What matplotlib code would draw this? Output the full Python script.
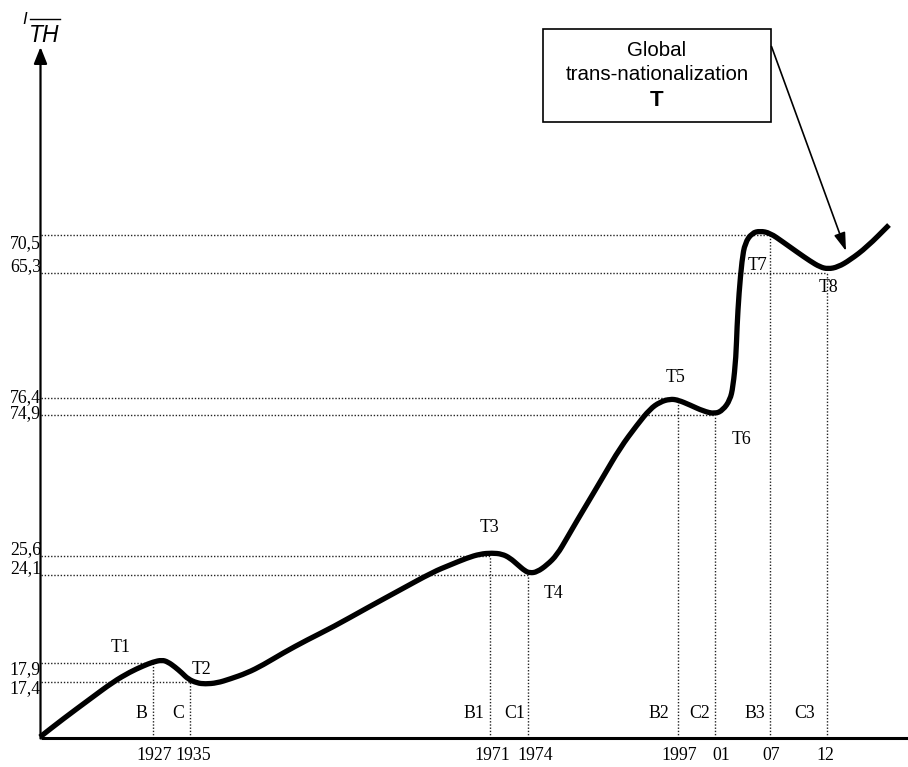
import matplotlib
matplotlib.use("Agg")
import matplotlib.pyplot as plt
from matplotlib.patches import Rectangle, PathPatch
from matplotlib.path import Path

# ---- data (schematic diagram, coordinates in drawing units) ----
curve_x = [40, 63, 90, 113, 130, 143, 153, 162, 168, 175, 182, 188, 197, 205, 217, 230,
           247, 263, 283, 307, 333, 367, 400, 433, 450, 467, 480, 492, 502, 510, 518,
           525, 530, 537, 547, 557, 567, 578, 587, 603, 620, 637, 650, 660, 670, 678,
           690, 703, 715, 723, 730, 733, 736, 737, 739, 742, 745, 752, 760, 770, 783,
           797, 810, 820, 828, 838, 850, 867, 889]
curve_y = [737, 719, 699, 682, 672, 666, 662, 660, 662, 667, 673, 679, 683, 684, 683, 679,
           673, 665, 653, 640, 627, 608, 590, 572, 565, 558, 554, 553, 554, 558, 565,
           571, 573, 572, 565, 555, 538, 519, 504, 477, 448, 425, 409, 402, 399, 400,
           405, 411, 414, 410, 400, 387, 357, 327, 293, 260, 243, 233, 231, 233, 242,
           252, 261, 267, 269, 267, 260, 247, 225]

level_labels = ["70,5", "65,3", "76,4", "74,9", "25,6", "24,1", "17,9", "17,4"]
level_y      = [235, 272.5, 397.5, 415, 556, 574.5, 663, 682]
level_label_y = [244, 267, 398, 414, 550, 569, 670, 689]
level_end_x  = [770, 827, 678, 715, 490, 527.5, 153, 190]

year_labels = ["1927", "1935", "1971", "1974", "1997", "01", "07", "12"]
year_x      = [153, 190, 490, 527.5, 678, 715, 770, 827]
year_top_y  = [663, 682, 556, 574.5, 397.5, 415, 235, 272.5]
year_label_x = [154, 193, 492, 535, 679, 721, 771, 825]

phase_labels = ["B", "C", "B1", "C1", "B2", "C2", "B3", "C3"]
phase_x      = [141, 178, 474, 515, 659, 700, 755, 805]

turn_labels = ["T1", "T2", "T3", "T4", "T5", "T6", "T7", "T8"]
turn_x      = [121, 201, 489, 554, 676, 742, 758, 828]
turn_y      = [648, 670, 528, 593, 377, 440, 265, 288]

box_lines = ["Global", "trans-nationalization", "T"]

# ---- drawing ----
W, H = 908, 767
fig = plt.figure(figsize=(W / 100, H / 100), dpi=100)
ax = fig.add_axes([0, 0, 1, 1])
ax.set_xlim(0, W)
ax.set_ylim(H, 0)
ax.axis("off")

serif = "Liberation Serif"
sans = "Liberation Sans"
dot = dict(color="#222222", lw=1.0, linestyle=(0, (1, 1.3)))
fs = 12.8

ox, oy = 40.5, 737.5

# dotted guide lines
for yv, xe in zip(level_y, level_end_x):
    ax.plot([ox, xe], [yv, yv], **dot, zorder=1)
for xv, yt in zip(year_x, year_top_y):
    ax.plot([xv, xv], [oy, yt], **dot, zorder=1)

# axes
ax.plot([ox, W], [oy, oy], color="black", lw=2.2, solid_capstyle="butt", zorder=3)
ax.annotate("", xy=(ox, 47), xytext=(ox, oy + 1),
            arrowprops=dict(arrowstyle="-|>,head_length=1.0,head_width=0.4",
                            color="black", lw=1.6, shrinkA=0, shrinkB=0), zorder=3)

# smooth curve: quadratic B-spline path through the read points as control points
pts = list(zip(curve_x, curve_y))
verts = [pts[0]]
codes = [Path.MOVETO]
verts.append(((pts[0][0] + pts[1][0]) / 2, (pts[0][1] + pts[1][1]) / 2))
codes.append(Path.LINETO)
for i in range(1, len(pts) - 1):
    mid = ((pts[i][0] + pts[i + 1][0]) / 2, (pts[i][1] + pts[i + 1][1]) / 2)
    verts += [pts[i], mid]
    codes += [Path.CURVE3, Path.CURVE3]
verts.append(pts[-1])
codes.append(Path.LINETO)
ax.add_patch(PathPatch(Path(verts, codes), facecolor="none", edgecolor="black",
                       lw=3.8, capstyle="butt", joinstyle="round", zorder=4))

# level labels
for lab, yv in zip(level_labels, level_label_y):
    ax.text(41, yv, lab, ha="right", va="center", fontsize=fs, family=serif)

# year labels
for lab, xv in zip(year_labels, year_label_x):
    ax.text(xv, 756, lab, ha="center", va="center", fontsize=fs, family=serif)

# phase labels
for lab, xv in zip(phase_labels, phase_x):
    ax.text(xv, 713, lab, ha="center", va="center", fontsize=fs, family=serif)

# turning point labels
for lab, xv, yv in zip(turn_labels, turn_x, turn_y):
    ax.text(xv, yv, lab, ha="center", va="center", fontsize=fs, family=serif)

# y-axis title
ax.text(25, 19, "I", ha="center", va="center", fontsize=12, family=sans, style="italic")
ax.text(44.5, 35.5, "TH", ha="center", va="center", fontsize=16.5, family=sans, style="italic")
ax.plot([29.5, 59.5], [18.5, 18.5], color="black", lw=1.0)

# annotation box
ax.add_patch(Rectangle((543, 28.5), 228, 93, fill=False, edgecolor="black", lw=1.2, zorder=5))
ax.text(657, 50, box_lines[0], ha="center", va="center", fontsize=14.8, family=sans)
ax.text(657, 75, box_lines[1], ha="center", va="center", fontsize=14.8, family=sans)
ax.text(657, 100, box_lines[2], ha="center", va="center", fontsize=16, family=sans,
        weight="bold")
ax.annotate("", xy=(846, 251), xytext=(771.5, 46.5),
            arrowprops=dict(arrowstyle="-|>,head_length=1.1,head_width=0.35",
                            color="black", lw=1.2, shrinkA=0, shrinkB=0), zorder=5)

fig.savefig("out.png", dpi=100, facecolor="white")
